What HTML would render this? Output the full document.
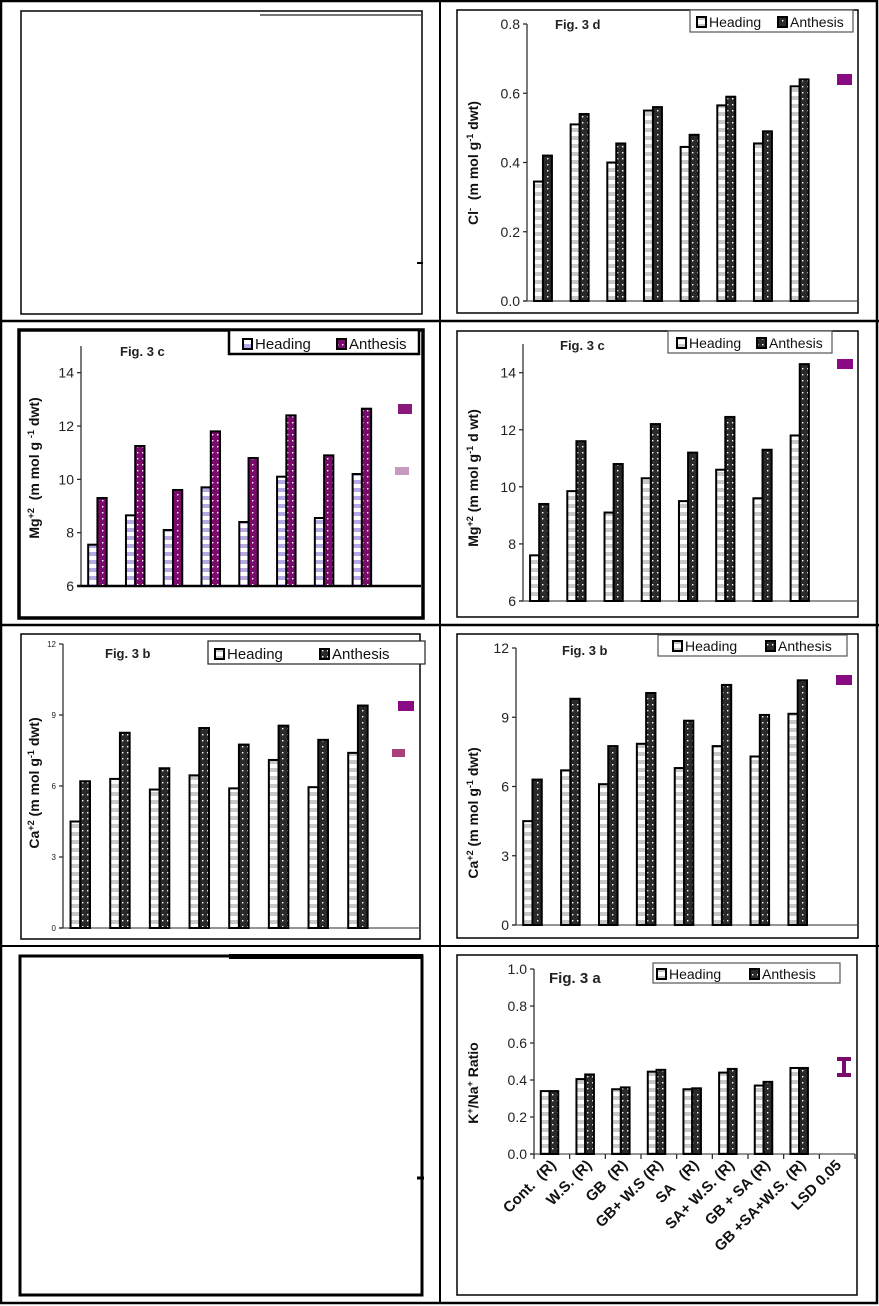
<!DOCTYPE html>
<html><head><meta charset="utf-8">
<style>
html,body{margin:0;padding:0;background:#fff;}
svg{display:block;font-family:"Liberation Sans",Arial,sans-serif;}
text{white-space:pre;}
</style></head>
<body>
<svg id="page" width="879" height="1306" viewBox="0 0 879 1306" xmlns="http://www.w3.org/2000/svg">
<defs>
<pattern id="pHead" width="6" height="8" patternUnits="userSpaceOnUse"><rect width="6" height="8" fill="#fff"/><rect x="0" y="0" width="6" height="4" fill="#c8c8c8"/></pattern>
<pattern id="pAnth" width="5" height="6" patternUnits="userSpaceOnUse"><rect width="5" height="6" fill="#2a2a2a"/><rect x="2" y="2" width="1.4" height="1.4" fill="#fff"/></pattern>
<pattern id="pHeadL" width="6" height="8" patternUnits="userSpaceOnUse"><rect width="6" height="8" fill="#fff"/><rect x="0" y="0" width="6" height="4" fill="#b8a8e4"/></pattern>
<pattern id="pAnthP" width="5" height="6" patternUnits="userSpaceOnUse"><rect width="5" height="6" fill="#7a0b6c"/><rect x="2" y="2" width="1.4" height="1.4" fill="#fff"/></pattern>
</defs>
<g id="grid">
<rect x="1" y="1" width="876" height="1302" fill="none" stroke="#000" stroke-width="2.5"/>
<line x1="440" y1="0" x2="440" y2="1304" stroke="#000" stroke-width="2"/>
<line x1="0" y1="321" x2="879" y2="321" stroke="#000" stroke-width="2.5"/>
<line x1="0" y1="625" x2="879" y2="625" stroke="#000" stroke-width="2.5"/>
<line x1="0" y1="946" x2="879" y2="946" stroke="#000" stroke-width="2"/>
</g>
<g>
<rect x="21" y="11" width="401" height="303" fill="none" stroke="#000" stroke-width="1.5"/>
<line x1="260" y1="15" x2="421" y2="15" stroke="#777" stroke-width="2"/>
<line x1="417" y1="263" x2="423" y2="263" stroke="#000" stroke-width="2"/>
</g>
<g>
<rect x="20" y="956" width="402" height="339" fill="none" stroke="#000" stroke-width="3"/>
<rect x="229" y="954" width="194" height="5" fill="#000"/>
<line x1="417" y1="1178" x2="424" y2="1178" stroke="#000" stroke-width="3"/>
</g>
<g id="charts"></g>
</svg>
<script>
// Fig 3d (Cl-)
const cats = ["Cont.  (R)","W.S. (R)","GB  (R)","GB+ W.S (R)","SA   (R)","SA+ W.S. (R)","GB + SA (R)","GB +SA+W.S. (R)"];
const d_head = [0.345,0.51,0.40,0.55,0.445,0.565,0.455,0.62];
const d_anth = [0.42,0.54,0.455,0.56,0.48,0.59,0.49,0.64];
const d_ticks = ["0.0","0.2","0.4","0.6","0.8"];
// Fig 3c left (Mg)
const cL_head = [7.55,8.65,8.1,9.7,8.4,10.1,8.55,10.2];
const cL_anth = [9.3,11.25,9.6,11.8,10.8,12.4,10.9,12.65];
const cL_ticks = ["6","8","10","12","14"];
// Fig 3c right (Mg)
const cR_head = [7.6,9.85,9.1,10.3,9.5,10.6,9.6,11.8];
const cR_anth = [9.4,11.6,10.8,12.2,11.2,12.45,11.3,14.3];
const cR_ticks = ["6","8","10","12","14"];
// Fig 3b left (Ca)
const bL_head = [4.5,6.3,5.85,6.45,5.9,7.1,5.95,7.4];
const bL_anth = [6.2,8.25,6.75,8.45,7.75,8.55,7.95,9.4];
const bL_ticks = ["0","3","6","9","12"];
// Fig 3b right (Ca)
const bR_head = [4.5,6.7,6.1,7.85,6.8,7.75,7.3,9.15];
const bR_anth = [6.3,9.8,7.75,10.05,8.85,10.4,9.1,10.6];
const bR_ticks = ["0","3","6","9","12"];
// Fig 3a (K/Na)
const a_head = [0.34,0.405,0.35,0.445,0.35,0.44,0.37,0.465];
const a_anth = [0.34,0.43,0.36,0.455,0.355,0.46,0.39,0.465];
const a_ticks = ["0.0","0.2","0.4","0.6","0.8","1.0"];

const NS="http://www.w3.org/2000/svg";
const root=document.getElementById('charts');
function mk(tag,attrs,parent){const e=document.createElementNS(NS,tag);for(const k in attrs)e.setAttribute(k,attrs[k]);(parent||root).appendChild(e);return e;}

function chart(c,head,anth,ticks){
  const g=mk('g',{});
  
  
  const fr=mk('rect',{x:c.frame[0],y:c.frame[1],width:c.frame[2]-c.frame[0],height:c.frame[3]-c.frame[1],fill:'none',stroke:c.frameCol||'#000','stroke-width':c.frameW||1.5},g);
  
  
  const y=v=>c.y0-(v-c.vmin)/(c.vmax-c.vmin)*(c.y0-c.y1);
  const slot=(c.xEnd-c.ax)/9;
  const ya=mk('line',{x1:c.ax,y1:c.axTop||c.y1,x2:c.ax,y2:c.y0,stroke:'#222','stroke-width':1.2},g);
  
  
  const xa=mk('line',{x1:c.ax-4,y1:c.y0,x2:c.xEnd,y2:c.y0,stroke:c.xaxCol||'#555','stroke-width':c.xaxW||1.2},g);
  
  
  ticks.forEach(t=>{
    const yy=y(parseFloat(t));
    mk('line',{x1:c.ax-4,y1:yy,x2:c.ax,y2:yy,stroke:'#222','stroke-width':1.2},g);
    const tx=mk('text',{x:c.ax-7,y:yy+c.tf*0.36,'text-anchor':'end','font-size':c.tf,fill:'#222'},g);
    tx.textContent=t;
    
    
  });
  const bw=slot*0.245;
  head.forEach((v,i)=>{
    const x0=c.ax+slot*i+slot*0.19;
    const r1=mk('rect',{x:x0,y:y(v),width:bw,height:c.y0-y(v),fill:'url(#'+c.hp+')',stroke:'#000','stroke-width':2},g);
    
    
    const r2=mk('rect',{x:x0+bw,y:y(anth[i]),width:bw,height:c.y0-y(anth[i]),fill:'url(#'+c.ap+')',stroke:'#000','stroke-width':2},g);
    
    
  });
  if(c.xlabels){
    for(let i=0;i<=9;i++){const xx=c.ax+slot*i;mk('line',{x1:xx,y1:c.y0,x2:xx,y2:c.y0+5,stroke:'#222','stroke-width':1.2},g);}
    cats.concat(["LSD 0.05"]).forEach((t,i)=>{
      const xx=c.ax+slot*(i+0.5)+5, yy=c.y0+12;
      const tx=mk('text',{x:xx,y:yy,'text-anchor':'end','font-size':15,'font-weight':'bold',fill:'#111',transform:'rotate(-45 '+xx+' '+yy+')'},g);
      tx.textContent=t;
      
      
    });
  }
  const fl=mk('text',{x:c.fig[0],y:c.fig[1],'font-size':c.figF||13,'font-weight':'bold',fill:'#222'},g);
  fl.textContent=c.figText;
  
  
  const F=c.ytF||14;
  const yt=mk('text',{x:0,y:0,'text-anchor':'middle','font-size':F,'font-weight':'bold',fill:'#111',transform:'translate('+c.yt[0]+' '+c.yt[1]+') rotate(-90)'},g);
  
  
  c.ytParts.forEach(p=>{const s=mk('tspan',{},yt);s.textContent=p[0];if(p[1])s.setAttribute('dy',p[1]);if(p[2])s.setAttribute('font-size',F*0.65);});
  const L=c.leg;
  const lb=mk('rect',{x:L.box[0],y:L.box[1],width:L.box[2]-L.box[0],height:L.box[3]-L.box[1],fill:'#fff',stroke:L.col||'#555','stroke-width':L.w||1.2},g);
  
  
  [[L.s1,'Heading',c.hp],[L.s2,'Anthesis',c.ap]].forEach(e=>{
    const sw=mk('rect',{x:e[0],y:L.ty-10,width:9,height:10,fill:'url(#'+e[2]+')',stroke:'#000','stroke-width':2},g);
    
    
    const t=mk('text',{x:e[0]+12,y:L.ty,'font-size':L.f||14,fill:'#111'},g);
    t.textContent=e[1];
    
    
  });
  (c.lsd||[]).forEach(m=>{
    const r=mk('rect',{x:m[0],y:m[1],width:m[2],height:m[3],fill:m[4]},g);
    
    
  });
  if(c.errbar){
    const e=c.errbar, p=mk('path',{d:`M${e[0]} ${e[1]}h14v4h-5v12h5v4h-14v-4h5v-12h-5z`,fill:'#7a0b6c'},g);
    
    
  }
}

chart({name:'chart-fig-3d',frame:[457,10,858,313],ax:527,xEnd:857,y0:301,y1:24,vmin:0,vmax:0.8,tf:14,hp:'pHead',ap:'pAnth',
  fig:[555,29],figText:'Fig. 3 d',yt:[478,163],ytParts:[['Cl'],['-',-5,1],['  (m mol g',5],['-1',-5,1],[' dwt)',5]],
  leg:{box:[690,10,853,32],s1:697,s2:778,ty:27},lsd:[[837,74,15,11,'#8a0a84']]},d_head,d_anth,d_ticks);

chart({name:'chart-fig-3c-left',frame:[19,330,423,618],frameW:3.5,ax:81,axTop:346,xEnd:421,xaxCol:'#000',xaxW:2.5,y0:586,y1:372.7,vmin:6,vmax:14,tf:14,hp:'pHeadL',ap:'pAnthP',
  fig:[120,356],figText:'Fig. 3 c',yt:[39,468],ytParts:[['Mg'],['+2',-5,1],['  (m mol g ',5],['-1',-5,1],[' dwt)',5]],
  leg:{box:[229,330,419,354],col:'#000',w:2.5,s1:243,s2:337,ty:349,f:15},lsd:[[398,404,14,10,'#8a1a7a'],[395,467,14,8,'#c99ac0']]},cL_head,cL_anth,cL_ticks);

chart({name:'chart-fig-3c-right',frame:[457,331,858,617],ax:523,axTop:344,xEnd:858,y0:601,y1:372.7,vmin:6,vmax:14,tf:14,hp:'pHead',ap:'pAnth',
  fig:[560,350],figText:'Fig. 3 c',yt:[478,478],ytParts:[['Mg'],['+2',-5,1],[' (m mol g',5],['-1',-5,1],[' d wt)',5]],
  leg:{box:[668,331,832,353],s1:677,s2:757,ty:348},lsd:[[837,359,16,10,'#8a0a84']]},cR_head,cR_anth,cR_ticks);

chart({name:'chart-fig-3b-left',frame:[21,634,420,939],ax:63,xEnd:420,y0:928,y1:644,vmin:0,vmax:12,tf:8,hp:'pHead',ap:'pAnth',
  fig:[105,658],figText:'Fig. 3 b',yt:[39,783],ytParts:[['Ca'],['+2',-5,1],[' (m mol g',5],['-1',-5,1],[' dwt)',5]],
  leg:{box:[208,641,425,664],col:'#222',s1:215,s2:320,ty:659,f:15},lsd:[[398,701,16,10,'#8a0a84'],[392,749,13,8,'#a8407e']]},bL_head,bL_anth,bL_ticks);

chart({name:'chart-fig-3b-right',frame:[457,634,858,938],ax:516,xEnd:857,y0:925,y1:648,vmin:0,vmax:12,tf:14,hp:'pHead',ap:'pAnth',
  fig:[562,655],figText:'Fig. 3 b',yt:[478,813],ytParts:[['Ca'],['+2',-5,1],[' (m mol g',5],['-1',-5,1],[' dwt)',5]],
  leg:{box:[658,635,847,656],s1:673,s2:766,ty:651},lsd:[[836,675,16,10,'#8a0a84']]},bR_head,bR_anth,bR_ticks);

chart({name:'chart-fig-3a',frame:[457,955,857,1295],ax:534,xEnd:855,y0:1154,y1:969,vmin:0,vmax:1.0,tf:14,hp:'pHead',ap:'pAnth',
  fig:[549,983],figF:15,figText:'Fig. 3 a',yt:[478,1083],ytParts:[['K'],['+',-5,1],['/Na',5],['+',-5,1],[' Ratio',5]],
  leg:{box:[653,963,840,983],s1:657,s2:750,ty:979},xlabels:true,errbar:[837,1057]},a_head,a_anth,a_ticks);
</script>
</body></html>
